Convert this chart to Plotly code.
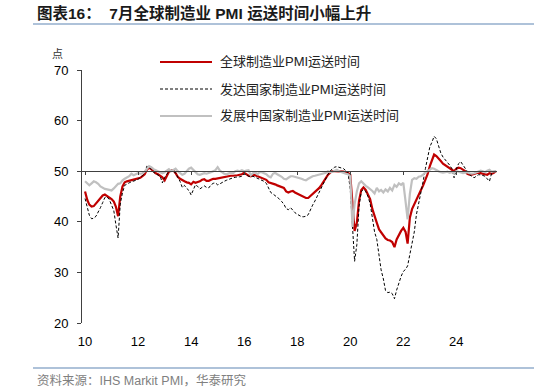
import pandas as pd
import plotly.graph_objects as go

dates = pd.date_range("2010-01-01", periods=187, freq="MS")

global_pmi = [
    46.0, 44.3, 43.4, 43.0, 43.1, 43.6, 44.2, 44.8, 45.2, 45.4, 45.1, 44.8,
    44.5, 44.0, 43.0, 41.1, 45.0, 47.0, 47.8, 48.0, 48.1, 48.2, 48.3, 48.4,
    48.5, 48.7, 49.0, 49.4, 50.3, 50.7, 50.4, 49.9, 49.6, 49.4, 49.1, 48.8,
    48.2, 49.3, 49.9, 50.1, 50.2, 49.6, 48.9, 48.5, 48.2, 48.0, 47.8, 47.7,
    47.4, 47.9, 47.7, 47.8, 48.0, 48.3, 48.4, 48.1, 48.1, 48.3, 48.5, 48.5,
    48.6, 48.7, 48.8, 48.8, 48.9, 49.0, 49.1, 49.1, 49.1, 49.2, 49.3, 49.4,
    49.7, 49.3, 49.1, 49.0, 49.3, 49.2, 49.0, 48.9, 48.7, 48.5, 48.3, 47.8,
    47.7, 47.6, 47.4, 47.2, 47.0, 46.9, 46.7, 46.0, 45.8, 46.0, 46.1, 45.8,
    45.6, 45.4, 45.1, 44.9, 44.7, 44.7, 45.1, 45.5, 45.9, 46.2, 46.7, 47.3,
    48.0, 48.7, 49.3, 49.7, 50.0, 50.0, 50.0, 50.0, 49.9, 49.9, 49.8, 49.7,
    49.3, 43.5, 38.2, 39.8, 44.2, 46.3, 46.8, 46.3, 45.5, 44.5, 42.5, 41.0,
    39.8, 38.5, 38.0, 37.4, 36.7, 36.4, 36.3, 36.0, 35.0, 36.5, 37.5, 38.2,
    38.8, 38.0, 35.7, 40.8, 42.5, 43.5, 44.6, 45.5, 46.3, 47.2, 48.3, 49.4,
    51.0, 52.3, 53.3, 53.0, 52.6, 52.0, 51.5, 51.2, 51.0, 50.7, 50.3, 50.0,
    50.5, 50.7, 50.6, 50.3, 50.0, 49.5, 49.3, 49.3, 49.5, 49.6, 49.7, 49.6,
    49.5, 49.5, 49.3, 49.6, 49.5, 49.7, 50.0,
]

developed_pmi = [
    44.6, 42.5, 41.3, 40.6, 40.7, 41.1, 41.8, 42.8, 43.8, 44.8, 44.9, 44.4,
    43.3, 42.2, 39.5, 36.8, 43.5, 45.8, 47.2, 47.5, 47.7, 47.9, 48.0, 48.2,
    48.4, 48.7, 49.1, 49.6, 51.0, 50.8, 50.2, 49.8, 49.5, 49.3, 49.0, 47.7,
    48.8, 49.4, 50.0, 50.2, 50.0, 49.7, 48.8, 48.0, 46.8, 47.2, 46.6, 46.2,
    45.3, 46.5, 47.3, 47.0, 46.5, 46.8, 47.1, 46.8, 46.7, 47.3, 47.6, 47.7,
    47.3, 47.5, 47.8, 48.0, 48.2, 48.4, 48.6, 48.7, 48.8, 48.8, 48.9, 49.0,
    49.5, 49.3, 49.0, 48.9, 49.0, 48.8, 48.6, 48.5, 48.2, 48.0, 47.6, 46.8,
    45.8, 45.5, 45.2, 44.9, 44.5, 44.0, 43.5, 42.6, 42.4, 42.8, 42.2, 41.8,
    41.5, 41.2, 41.0, 41.0, 41.1, 41.4, 42.5, 43.3, 44.1, 45.0, 46.0, 46.8,
    47.7, 48.6, 49.4, 50.1, 50.4, 50.8, 50.9, 50.8, 50.7, 50.5, 50.1, 49.7,
    46.5, 40.0, 32.2, 35.5, 43.0, 46.0, 46.4, 46.0, 45.0, 43.6, 40.8, 38.0,
    36.5, 33.3, 30.5, 28.7, 26.4, 26.0, 26.1, 25.8, 24.8, 26.5, 28.0, 29.2,
    30.2, 30.6, 31.3, 33.5, 35.8, 38.0, 41.5, 43.5, 45.8, 48.0, 50.5, 52.5,
    54.8, 55.8, 56.9, 56.4, 55.0, 53.6, 52.8, 52.3, 51.6, 51.2, 50.5, 48.7,
    50.4, 51.5, 51.9, 51.2, 50.6, 49.9, 49.3, 49.0, 48.7, 49.0, 49.3, 49.3,
    49.2, 49.0, 48.5, 48.0, 49.6, 49.8, 50.0,
]

developing_pmi = [
    48.0, 47.5, 47.2, 47.6, 48.0, 47.8, 47.5, 47.0, 46.7, 46.5, 46.4, 46.3,
    46.2, 46.6, 47.0, 47.5, 47.6, 48.2, 48.5, 48.7, 49.0, 49.5, 49.2, 49.4,
    49.6, 49.5, 49.6, 49.9, 50.5, 51.0, 50.8, 50.4, 50.2, 50.0, 49.8, 49.6,
    49.8, 50.2, 50.4, 50.0, 50.3, 50.5, 50.0, 49.6, 49.3, 49.5, 50.0, 50.5,
    50.7, 50.2, 49.7, 49.4, 49.3, 49.5, 49.6, 49.5, 49.6, 49.8, 50.0, 50.2,
    50.8, 50.1, 49.8, 49.5, 49.4, 49.6, 49.7, 49.6, 50.0, 50.1, 50.0, 50.2,
    50.0, 50.1, 50.2, 49.2, 49.6, 49.8, 49.4, 49.8, 49.8, 49.6, 49.4, 49.0,
    48.8, 49.5, 49.7, 49.4, 49.2, 48.9, 48.5, 48.4, 48.7, 49.0, 49.0, 48.9,
    48.7, 48.6, 48.5, 48.3, 48.2, 48.5, 48.8, 49.0, 49.1, 49.2, 49.3, 49.5,
    49.6, 49.7, 50.0, 49.8, 49.9, 50.1, 50.3, 50.0, 49.8, 49.6, 49.5, 49.4,
    49.0, 39.0, 43.5, 46.0, 47.6, 48.0, 47.5, 47.1, 46.8, 46.5, 46.1, 45.6,
    46.7, 46.0, 46.3, 45.8, 46.4, 46.0, 46.7, 46.2, 47.3, 46.9, 47.6, 47.3,
    47.7, 44.0, 40.5, 45.5, 48.3, 48.6, 48.5, 48.9, 49.0, 49.3, 49.8, 50.0,
    50.3, 50.6, 50.5, 50.2, 50.0, 49.8, 49.7, 49.8, 49.9, 49.7, 49.8, 49.7,
    50.0, 49.9, 49.8, 49.6, 49.7, 49.8, 49.6, 49.5, 49.6, 49.8, 50.0, 50.1,
    50.0, 49.8, 50.1, 50.3, 49.9, 50.0, 50.0,
]

series_names = ["全球制造业PMI运送时间", "发达国家制造业PMI运送时间", "发展中国家制造业PMI运送时间"]
tick_years = ["2010-01-01", "2012-01-01", "2014-01-01", "2016-01-01",
              "2018-01-01", "2020-01-01", "2022-01-01", "2024-01-01"]
tick_labels = ["10", "12", "14", "16", "18", "20", "22", "24"]
y_ticks = [20, 30, 40, 50, 60, 70]

FONT = "Liberation Sans, Arial, Noto Sans CJK SC, sans-serif"
CJK = "Noto Sans CJK SC, Liberation Sans, sans-serif"
RED = "#c00000"
GRAY = "#c0c0c0"
BLACK = "#000000"

fig = go.Figure()
fig.add_trace(go.Scatter(x=dates, y=global_pmi, mode="lines", name=series_names[0],
                         line=dict(color=RED, width=2.2), showlegend=False))
fig.add_trace(go.Scatter(x=dates, y=developed_pmi, mode="lines", name=series_names[1],
                         line=dict(color=BLACK, width=1, dash="3px,2px"), showlegend=False))
fig.add_trace(go.Scatter(x=dates, y=developing_pmi, mode="lines", name=series_names[2],
                         line=dict(color=GRAY, width=2.2), showlegend=False))
# helper trace so the 50-line axis is rendered
fig.add_trace(go.Scatter(x=[dates[0], dates[-1]], y=[50, 50], xaxis="x2", yaxis="y",
                         mode="lines", line=dict(width=0, color="rgba(0,0,0,0)"),
                         hoverinfo="skip", showlegend=False))

x_range = ["2009-11-20", "2025-07-14"]

fig.update_layout(
    width=534, height=392,
    margin=dict(l=82, r=37, t=70, b=69),
    paper_bgcolor="white", plot_bgcolor="white",
    font=dict(family=FONT, size=13, color="#000000"),
    xaxis=dict(range=x_range, type="date", tickvals=tick_years, ticktext=tick_labels,
               showline=False, showgrid=False, zeroline=False,
               ticks="outside", ticklen=6, tickcolor="rgba(0,0,0,0)",
               tickfont=dict(family=FONT, size=13, color="#000")),
    xaxis2=dict(range=x_range, type="date", overlaying="x", anchor="free", position=0.6,
                showline=True, linecolor="#404040", linewidth=1,
                tickvals=tick_years, ticks="outside", ticklen=3, tickcolor="#404040",
                showticklabels=False, showgrid=False, zeroline=False),
    yaxis=dict(range=[20, 70], tickvals=y_ticks, showline=True, linecolor="#404040",
               linewidth=1, ticks="outside", ticklen=4, tickcolor="#404040",
               showgrid=False, zeroline=False, ticklabelstandoff=6,
               tickfont=dict(family=FONT, size=13, color="#000")),
    showlegend=False,
)

def px(xp):
    return (xp - 82) / 415.0

def py(yp):
    return (323 - yp) / 253.0

annotations = [
    dict(text="<b>图表16：  7月全球制造业 PMI 运送时间小幅上升</b>", x=px(35), y=py(13),
         xanchor="left", yanchor="middle", font=dict(family=FONT, size=15.5, color="#1a1a1a")),
    dict(text="点", x=px(57), y=py(53), xanchor="center", yanchor="middle",
         font=dict(family=CJK, size=11, color="#333")),
    dict(text="资料来源：IHS Markit PMI，华泰研究", x=px(35), y=py(380),
         xanchor="left", yanchor="middle", font=dict(family=FONT, size=12.5, color="#808080")),
]
legend_rows = [(62, RED, 2.2, "solid"), (89, BLACK, 1, "dot"), (116, GRAY, 2.2, "solid")]
shapes = [
    dict(type="line", xref="paper", yref="paper", x0=px(33), x1=px(534), y0=py(24), y1=py(24),
         line=dict(color="#5f86b3", width=1.2)),
    dict(type="line", xref="paper", yref="paper", x0=px(33), x1=px(534), y0=py(368), y1=py(368),
         line=dict(color="#5f86b3", width=1.2)),
]
for (yy, col, w, d), name in zip(legend_rows, series_names):
    shapes.append(dict(type="line", xref="paper", yref="paper", x0=px(160), x1=px(212),
                       y0=py(yy), y1=py(yy),
                       line=dict(color=col, width=w, dash=("3px,2px" if d == "dot" else "solid"))))
    annotations.append(dict(text=name, x=px(218), y=py(yy), xanchor="left", yanchor="middle",
                            font=dict(family=FONT, size=13, color="#222")))

for a in annotations:
    a.update(xref="paper", yref="paper", showarrow=False)
fig.update_layout(annotations=annotations, shapes=shapes)

fig.write_html("out.html", config={"displayModeBar": False},
               post_script="document.body.style.margin='0';document.body.style.overflow='hidden';")
